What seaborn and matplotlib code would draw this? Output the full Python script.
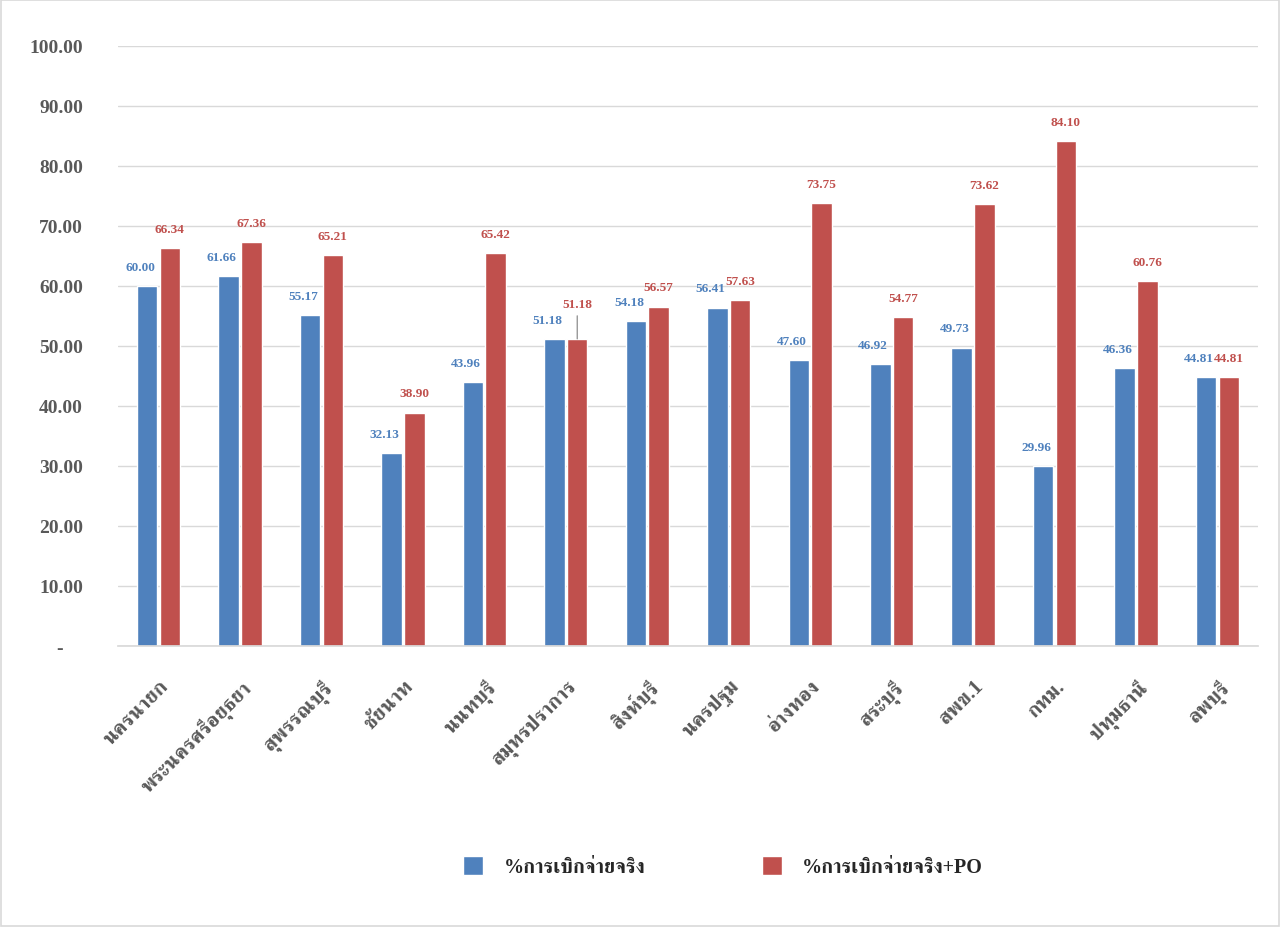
import matplotlib
matplotlib.use("Agg")
import matplotlib.pyplot as plt
from matplotlib import font_manager
from matplotlib.ft2font import FT2Font
from matplotlib.patches import Rectangle
import seaborn as sns
import pandas as pd

categories = ["นครนายก", "พระนครศรีอยุธยา", "สุพรรณบุรี", "ชัยนาท", "นนทบุรี",
              "สมุทรปราการ", "สิงห์บุรี", "นครปฐม", "อ่างทอง", "สระบุรี",
              "สพข.1", "กทม.", "ปทุมธานี", "ลพบุรี"]
actual = [60.00, 61.66, 55.17, 32.13, 43.96, 51.18, 54.18, 56.41, 47.60, 46.92,
          49.73, 29.96, 46.36, 44.81]
actual_po = [66.34, 67.36, 65.21, 38.90, 65.42, 51.18, 56.57, 57.63, 73.75, 54.77,
             73.62, 84.10, 60.76, 44.81]
series_names = ["%การเบิกจ่ายจริง", "%การเบิกจ่ายจริง+PO"]
yticks = [0, 10, 20, 30, 40, 50, 60, 70, 80, 90, 100]

# find a font with Thai glyphs
thai_fams = []
for f in font_manager.fontManager.ttflist:
    try:
        cm = FT2Font(f.fname).get_charmap()
        if 0x0E01 in cm and f.name not in thai_fams:
            thai_fams.append(f.name)
    except Exception:
        pass
pref = [n for n in thai_fams if "Serif" in n] + [n for n in thai_fams if "Serif" not in n]
fam = ["Liberation Serif"] + pref[:2] + ["DejaVu Serif", "DejaVu Sans"]

sns.set_theme(style="white")
plt.rcParams["font.family"] = fam

df = pd.DataFrame({
    "cat": categories * 2,
    "val": actual + actual_po,
    "series": [series_names[0]] * len(categories) + [series_names[1]] * len(categories),
})

blue = "#4F81BD"
red = "#C0504D"
gray = "#595959"

fig = plt.figure(figsize=(12.8, 9.28), dpi=100)
ax = fig.add_axes([0.092, 0.3028, 0.891, 0.6466])
sns.barplot(data=df, x="cat", y="val", hue="series", palette=[blue, red],
            width=0.56, gap=0.1, ax=ax, legend=True, saturation=1)

ax.set_ylim(0, 100)
ax.set_yticks(yticks)
ax.set_yticklabels(["-    " if v == 0 else f"{v:.2f}" for v in yticks],
                   fontsize=14, fontweight="bold", color=gray)
ax.set_xticks(range(len(categories)))
ax.set_xticklabels(categories, rotation=45, ha="right", rotation_mode="anchor",
                   fontsize=15, fontweight="bold", color=gray)
ax.tick_params(axis="x", length=0, pad=21)
ax.tick_params(axis="y", length=0, pad=25)
ax.set_xlabel("")
ax.set_ylabel("")
ax.yaxis.grid(True, color="#D9D9D9", linewidth=1)
ax.set_axisbelow(True)
for s in ["top", "right", "left"]:
    ax.spines[s].set_visible(False)
ax.spines["bottom"].set_color("#D9D9D9")
ax.set_xlim(-0.5, len(categories) - 0.5)

# value labels
for i, cont in enumerate(ax.containers):
    col = blue if i == 0 else red
    dx = -5 if i == 0 else 0
    for j, (bar, v) in enumerate(zip(cont, (actual if i == 0 else actual_po))):
        x = bar.get_x() + bar.get_width() / 2
        if i == 1 and j == 5:
            ax.annotate(f"{v:.2f}", (x, bar.get_height()), xytext=(0, 21),
                        textcoords="offset points", ha="center", va="bottom",
                        fontsize=9.5, fontweight="bold", color=col,
                        arrowprops=dict(arrowstyle="-", color="#7F7F7F", lw=0.8,
                                        shrinkA=2, shrinkB=0))
        else:
            ax.annotate(f"{v:.2f}", (x, bar.get_height()), xytext=(dx, 9.5),
                        textcoords="offset points", ha="center", va="bottom",
                        fontsize=9.5, fontweight="bold", color=col)

h, l = ax.get_legend_handles_labels()
ax.legend_.remove()
fig.legend(h, l, loc="center", bbox_to_anchor=(0.565, 0.065), ncol=2, frameon=False,
           prop={"size": 14.5, "weight": "bold"}, handlelength=1.0, handleheight=1.1,
           columnspacing=5.8, handletextpad=1.0)

fig.patches.append(Rectangle((0.001, 0.001), 0.998, 0.998, transform=fig.transFigure,
                             fill=False, edgecolor="#D9D9D9", linewidth=1.2))
fig.savefig("out.png", dpi=100, facecolor="white")
